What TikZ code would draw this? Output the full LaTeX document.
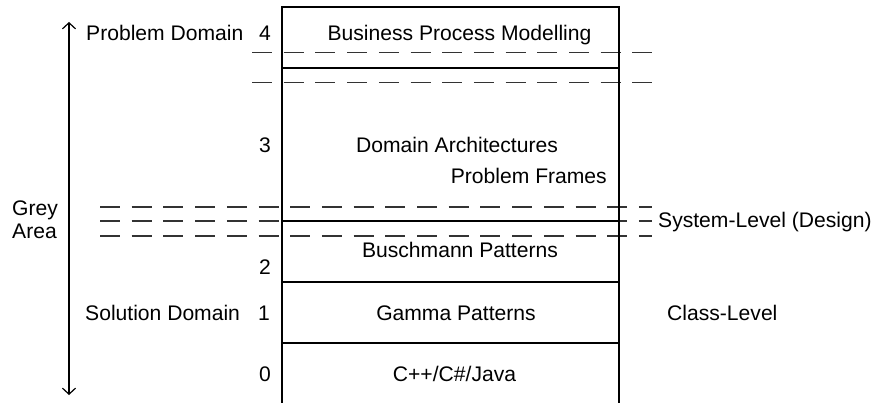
\documentclass[tikz,border=0pt]{standalone}
\usepackage{fontspec}
\setmainfont{Liberation Sans}
\usetikzlibrary{arrows.meta}
\begin{document}
\begin{tikzpicture}[x=1pt,y=-1pt,
  lbl/.style={inner sep=0pt, font=\fontsize{21.1}{25}\selectfont, anchor=base},
  lblw/.style={lbl, anchor=base west},
  frame/.style={line width=1.3pt},
  dashline/.style={line width=1.2pt, dash pattern=on 20pt off 11.7pt, black!80},
  barb/.tip={Straight Barb[length=6pt,width=13pt,line width=1.2pt]}
]
\useasboundingbox (0,0) rectangle (880,403);
% dashed level lines
\draw[dashline] (252,52.5) -- (652,52.5);
\draw[dashline] (252,82.5) -- (652,82.5);
\draw[dashline] (100,207) -- (652,207);
\draw[dashline] (100,221) -- (652,221);
\draw[dashline] (100,236) -- (652,236);
% column frame
\draw[frame] (282,406) -- (282,7) -- (619,7) -- (619,406);
\draw[frame] (282,68) -- (619,68);
\draw[frame] (282,221) -- (619,221);
\draw[frame] (282,282) -- (619,282);
\draw[frame] (282,343) -- (619,343);
% vertical arrow
\coordinate (atop) at (69,22);
\coordinate (abot) at (69,395);
\draw[line width=1.2pt, barb-barb] (atop) -- (abot);
% labels
\node[lblw] (pd) at (86,41) {Problem Domain};
\node[lbl] (n4) at (265,41) {4};
\node[lbl] (bpm) at (459.5,41) {Business Process Modelling};
\node[lbl] (n3) at (265,152.5) {3};
\node[lbl] (da) at (457,152.5) {Domain Architectures};
\node[lbl, anchor=base east] (pf) at (607,184) {Problem Frames};
\node[lblw] (grey) at (12,216) {Grey};
\node[lblw] (area) at (12,239) {Area};
\node[lblw] (sl) at (658,227.5) {System-Level (Design)};
\node[lbl] (bp) at (460,258) {Buschmann Patterns};
\node[lbl] (n2) at (265,274.5) {2};
\node[lblw] (sd) at (85,320) {Solution Domain};
\node[lbl] (n1) at (264,320) {1};
\node[lbl] (gp) at (456,320) {Gamma Patterns};
\node[lblw] (cl) at (667,320) {Class-Level};
\node[lbl] (n0) at (265,381.5) {0};
\node[lbl] (cj) at (454.5,381.5) {C++/C\#/Java};
\end{tikzpicture}
\end{document}
